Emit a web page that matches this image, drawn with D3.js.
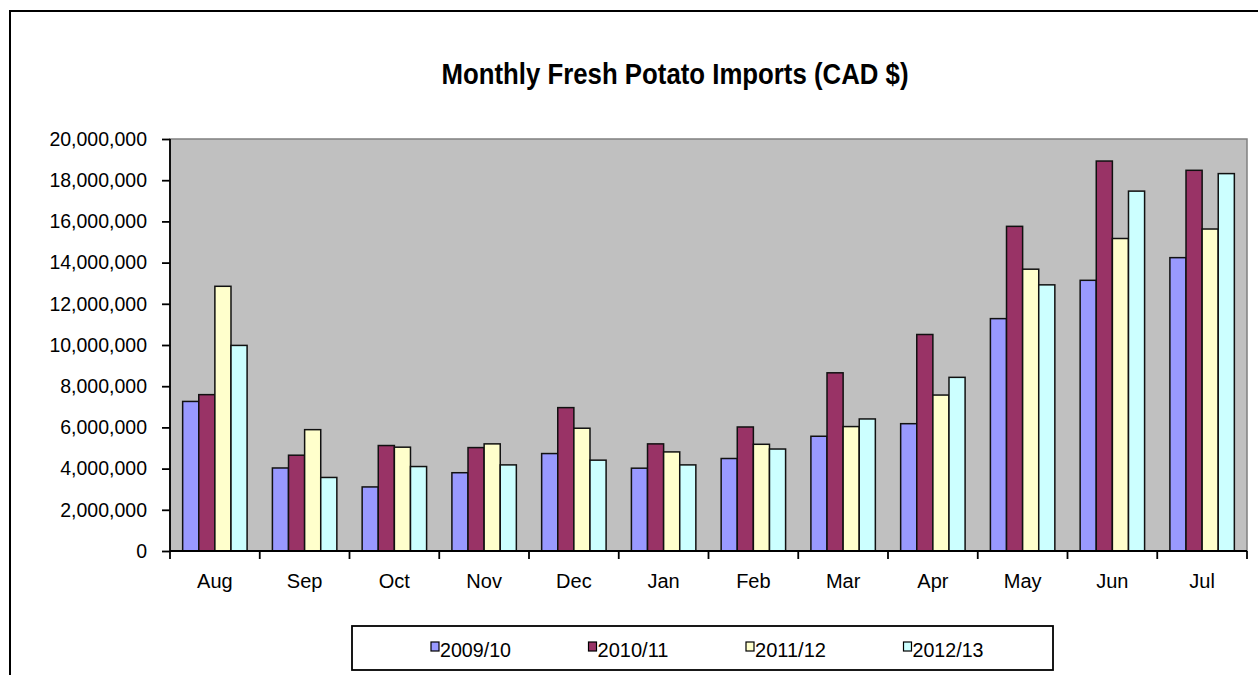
<!DOCTYPE html>
<html>
<head>
<meta charset="utf-8">
<script src="https://cdn.jsdelivr.net/npm/d3@7"></script>
<style>
    body { margin: 0; background: #fff; }
    text { font-family: "Liberation Sans", Arial, sans-serif; fill: #000; }
</style>
</head>
<body>
<svg id="drawing_region"></svg>
<script>
const months = ['Aug', 'Sep', 'Oct', 'Nov', 'Dec', 'Jan', 'Feb', 'Mar', 'Apr', 'May', 'Jun', 'Jul'];
const seasons = ['2009/10', '2010/11', '2011/12', '2012/13'];
const colors = ['#9999FF', '#993366', '#FFFFCC', '#CCFFFF'];

const v2009 = [7260000, 4030000, 3110000, 3800000, 4730000, 4020000, 4490000, 5570000, 6180000, 11280000, 13140000, 14240000];
const v2010 = [7590000, 4650000, 5120000, 5020000, 6960000, 5200000, 6020000, 8650000, 10510000, 15760000, 18930000, 18480000];
const v2011 = [12850000, 5890000, 5040000, 5200000, 5960000, 4810000, 5180000, 6040000, 7570000, 13680000, 15170000, 15630000];
const v2012 = [9980000, 3570000, 4100000, 4180000, 4410000, 4180000, 4950000, 6410000, 8430000, 12920000, 17470000, 18320000];

const yticks = [0, 2000000, 4000000, 6000000, 8000000, 10000000, 12000000, 14000000, 16000000, 18000000, 20000000];
const title = 'Monthly Fresh Potato Imports (CAD $)';

const series = [v2009, v2010, v2011, v2012];
const data = months.map((m, i) => ({
    month: m,
    values: seasons.map((s, j) => ({ season: s, value: series[j][i], color: colors[j] }))
}));

const width = 1258, height = 675;
const plot = { left: 170, right: 1247, top: 139, bottom: 551 };

const svg = d3.select('#drawing_region')
    .attr('width', width)
    .attr('height', height);

// outer chart border (right / bottom run off the picture)
svg.append('rect')
    .attr('x', 10).attr('y', 11)
    .attr('width', 1260).attr('height', 700)
    .attr('fill', 'none')
    .attr('stroke', '#000')
    .attr('stroke-width', 2);

svg.append('text')
    .attr('x', 675).attr('y', 84)
    .attr('text-anchor', 'middle')
    .attr('font-size', 29)
    .attr('font-weight', 'bold')
    .attr('textLength', 467)
    .attr('lengthAdjust', 'spacingAndGlyphs')
    .text(title);

const xscale = d3.scaleBand()
    .domain(months)
    .range([plot.left, plot.right])
    .paddingInner(0.282)
    .paddingOuter(0.141);

const xinner = d3.scaleBand()
    .domain(seasons)
    .range([0, xscale.bandwidth()]);

const yscale = d3.scaleLinear()
    .domain([0, 20000000])
    .range([plot.bottom, plot.top]);

// plot background
svg.append('rect')
    .attr('x', plot.left).attr('y', plot.top)
    .attr('width', plot.right - plot.left)
    .attr('height', plot.bottom - plot.top)
    .attr('fill', '#C0C0C0')
    .attr('stroke', '#808080')
    .attr('stroke-width', 1.5);

const groups = svg.append('g').selectAll('g')
    .data(data)
    .join('g')
    .attr('transform', d => `translate(${xscale(d.month)},0)`);

groups.selectAll('rect')
    .data(d => d.values)
    .join('rect')
    .attr('x', d => xinner(d.season))
    .attr('y', d => yscale(d.value))
    .attr('width', xinner.bandwidth())
    .attr('height', d => plot.bottom - yscale(d.value))
    .attr('fill', d => d.color)
    .attr('stroke', '#111')
    .attr('stroke-width', 1.5);

// y axis
const yaxis = d3.axisLeft(yscale)
    .tickValues(yticks)
    .tickFormat(d3.format(','))
    .tickSize(8)
    .tickPadding(15);

const yaxis_group = svg.append('g')
    .attr('transform', `translate(${plot.left},0)`)
    .call(yaxis);
yaxis_group.selectAll('text').attr('font-size', 19.5).attr('font-family', null);
yaxis_group.selectAll('line, path').attr('stroke', '#000').attr('stroke-width', 1.8);
yaxis_group.select('.domain').attr('d', `M0,${plot.top}V${plot.bottom}`);

// x axis: ticks on the band boundaries, labels at band centres
const xaxis_group = svg.append('g')
    .attr('transform', `translate(0,${plot.bottom})`);
xaxis_group.append('line')
    .attr('x1', plot.left).attr('x2', plot.right)
    .attr('stroke', '#000').attr('stroke-width', 1.8);
const step = xscale.step();
xaxis_group.selectAll('.tick')
    .data(d3.range(months.length + 1))
    .join('line')
    .attr('class', 'tick')
    .attr('x1', i => plot.left + i * step)
    .attr('x2', i => plot.left + i * step)
    .attr('y1', 0).attr('y2', 8)
    .attr('stroke', '#000').attr('stroke-width', 1.8);
xaxis_group.selectAll('text')
    .data(months)
    .join('text')
    .attr('x', d => xscale(d) + xscale.bandwidth() / 2)
    .attr('y', 37)
    .attr('text-anchor', 'middle')
    .attr('font-size', 20)
    .text(d => d);

// legend
const legend = svg.append('g');
legend.append('rect')
    .attr('x', 352).attr('y', 626)
    .attr('width', 701).attr('height', 44)
    .attr('fill', '#fff')
    .attr('stroke', '#000')
    .attr('stroke-width', 1.8);

const items = legend.selectAll('g')
    .data(seasons)
    .join('g')
    .attr('transform', (d, i) => `translate(${431 + i * 157.5},0)`);
items.append('rect')
    .attr('x', 0).attr('y', 642)
    .attr('width', 8).attr('height', 9)
    .attr('fill', (d, i) => colors[i])
    .attr('stroke', '#000')
    .attr('stroke-width', 1.2);
items.append('text')
    .attr('x', 9).attr('y', 657)
    .attr('font-size', 20)
    .attr('textLength', 71)
    .attr('lengthAdjust', 'spacingAndGlyphs')
    .text(d => d);
</script>
</body>
</html>
